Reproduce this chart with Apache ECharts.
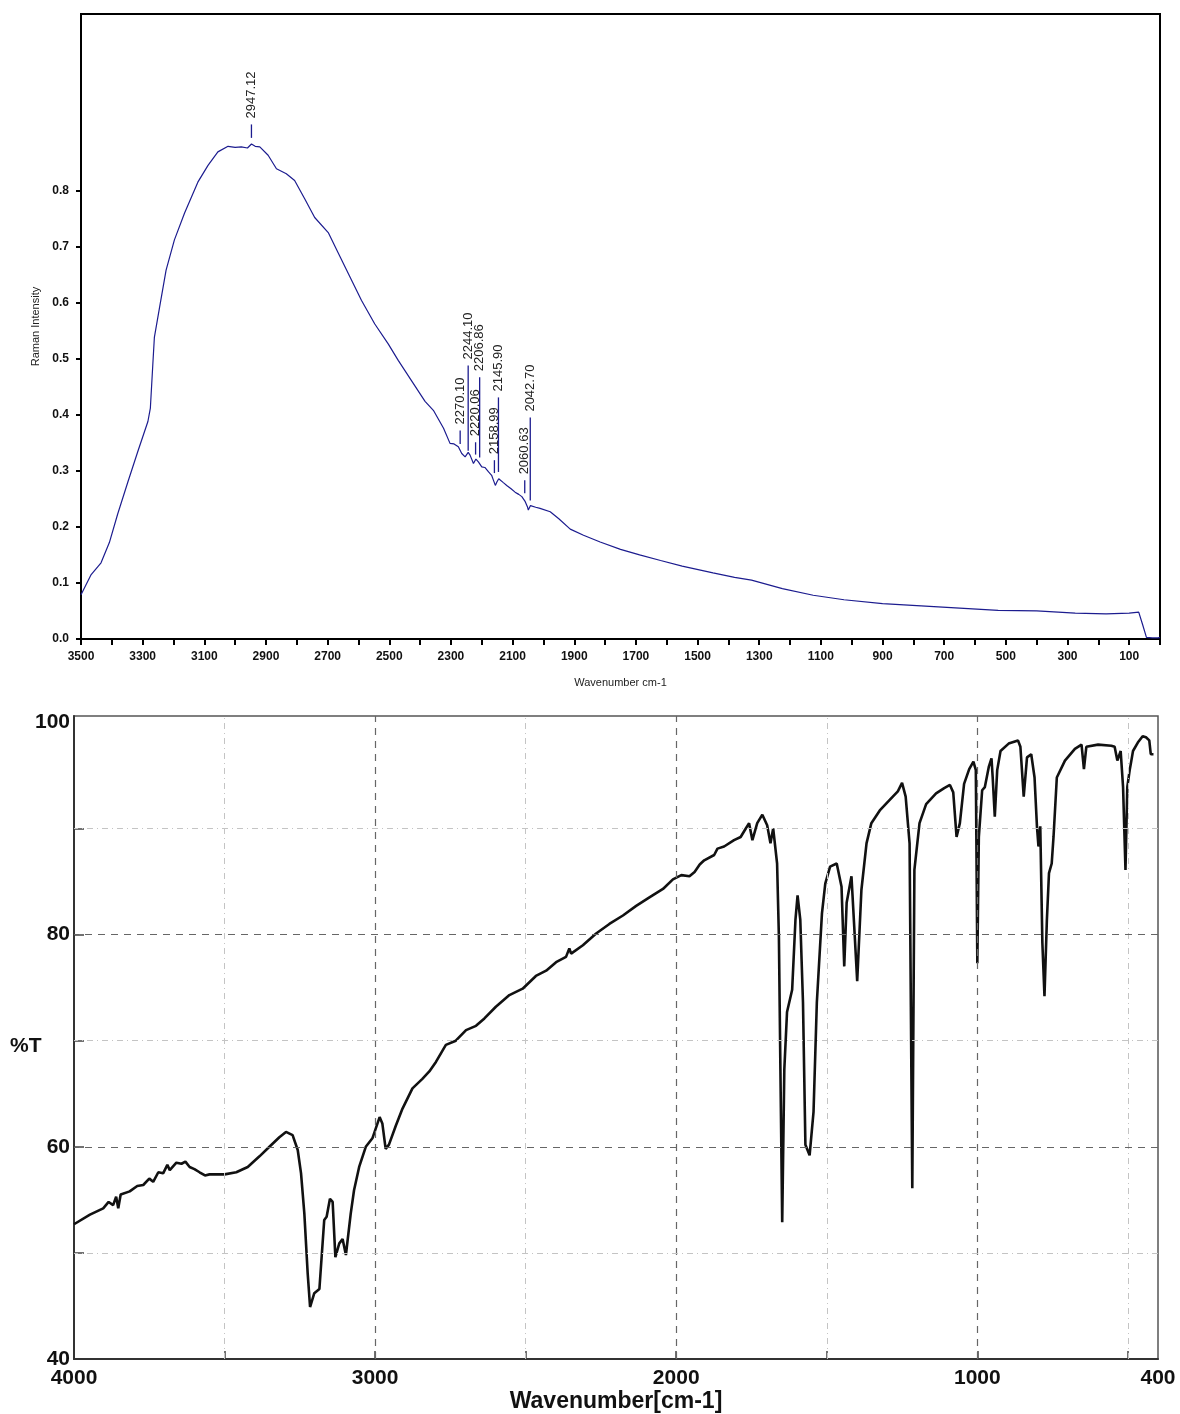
<!DOCTYPE html>
<html>
<head>
<meta charset="utf-8">
<title>Raman / IR spectra</title>
<script src="https://cdn.jsdelivr.net/npm/echarts@6/dist/echarts.min.js"></script>
<style>
  html, body { margin: 0; padding: 0; background: #fff; }
  #chart { width: 1180px; height: 1414px; }
</style>
</head>
<body>
<div id="chart"></div>
<script>
// Raman spectrum (top), [wavenumber, intensity]
var ramanWave = [3500, 3467, 3435, 3408, 3381, 3348, 3316, 3283, 3275, 3267, 3262, 3245, 3224, 3197, 3164, 3121, 3088, 3056, 3023, 3000,
  2980, 2960, 2947, 2935, 2920, 2893, 2866, 2834, 2807, 2774, 2742, 2698, 2666, 2633, 2590, 2547, 2503, 2471, 2427, 2384,
  2357, 2324, 2303, 2290, 2276, 2265, 2254, 2244, 2238, 2227, 2219, 2211, 2200, 2190, 2178, 2168, 2162, 2156, 2151, 2145,
  2140, 2130, 2119, 2105, 2092, 2080, 2070, 2059, 2052, 2049, 2042, 2038, 2025, 2011, 1978, 1951, 1913, 1870, 1816, 1750,
  1688, 1620, 1550, 1450, 1380, 1325, 1225, 1125, 1025, 900, 775, 650, 525, 400, 275, 175, 100, 69, 56, 44, 25, 6, 0];
var ramanValue = [0.079, 0.115, 0.136, 0.172, 0.223, 0.28, 0.334, 0.388, 0.412, 0.49, 0.538, 0.592, 0.658, 0.712, 0.76, 0.815, 0.845, 0.869, 0.879, 0.877,
  0.878, 0.876, 0.883, 0.879, 0.878, 0.863, 0.839, 0.83, 0.818, 0.785, 0.752, 0.725, 0.689, 0.652, 0.604, 0.562, 0.526, 0.497, 0.46, 0.424,
  0.408, 0.376, 0.349, 0.348, 0.343, 0.331, 0.325, 0.333, 0.328, 0.313, 0.321, 0.316, 0.307, 0.306, 0.298, 0.292, 0.283, 0.274, 0.28, 0.286,
  0.283, 0.279, 0.274, 0.268, 0.262, 0.258, 0.254, 0.245, 0.236, 0.23, 0.238, 0.236, 0.235, 0.233, 0.227, 0.215, 0.196, 0.185, 0.173, 0.16,
  0.15, 0.14, 0.13, 0.118, 0.11, 0.105, 0.09, 0.078, 0.07, 0.063, 0.059, 0.055, 0.051, 0.05, 0.046, 0.045, 0.046, 0.048, 0.025, 0.003, 0.002, 0.002, 0.003];

// labelled peaks: wavenumber, marker line from / to (intensity units)
var peakWave = [2947.12, 2270.10, 2244.10, 2220.06, 2206.86, 2158.99, 2145.90, 2060.63, 2042.70];
var peakLow  = [0.894, 0.348, 0.336, 0.329, 0.324, 0.296, 0.298, 0.26, 0.247];
var peakHigh = [0.918, 0.372, 0.488, 0.351, 0.467, 0.319, 0.431, 0.283, 0.395];

var ramanTicks = [0, 0.1, 0.2, 0.3, 0.4, 0.5, 0.6, 0.7, 0.8];

// IR spectrum (bottom), [wavenumber, %T]
var irWave = [4000, 3947, 3903, 3885, 3870, 3860, 3853, 3845, 3815, 3790, 3770, 3750, 3737, 3720, 3704, 3690, 3682, 3660, 3643, 3630,
  3616, 3600, 3583, 3565, 3550, 3500, 3461, 3423, 3384, 3351, 3318, 3296, 3274, 3257, 3246, 3235, 3224, 3216, 3202, 3185,
  3169, 3161, 3150, 3141, 3132, 3119, 3108, 3097, 3081, 3070, 3053, 3031, 3009, 2985, 2976, 2965, 2954, 2931, 2909, 2876,
  2843, 2820, 2798, 2765, 2732, 2698, 2665, 2637, 2599, 2554, 2510, 2466, 2432, 2399, 2366, 2355, 2349, 2310, 2266, 2222,
  2177, 2133, 2089, 2044, 2011, 1983, 1956, 1939, 1922, 1907, 1874, 1863, 1841, 1808, 1786, 1769, 1758, 1747, 1731, 1714,
  1698, 1687, 1678, 1665, 1659, 1654, 1648, 1641, 1632, 1615, 1604, 1597, 1588, 1579, 1571, 1557, 1544, 1533, 1516, 1505,
  1489, 1467, 1451, 1442, 1434, 1418, 1407, 1399, 1385, 1368, 1352, 1324, 1291, 1264, 1250, 1238, 1225, 1216, 1209, 1192,
  1170, 1137, 1110, 1091, 1080, 1069, 1058, 1044, 1027, 1013, 1005, 1000, 995, 984, 975, 962, 953, 949, 942, 934,
  923, 896, 865, 857, 846, 835, 821, 810, 802, 797, 791, 784, 777, 769, 762, 753, 747, 736, 709, 676,
  654, 646, 638, 599, 555, 544, 535, 524, 516, 508, 502, 494, 489, 483, 467, 451, 440, 429, 424, 415];
var irValue = [52.7, 53.6, 54.2, 54.8, 54.5, 55.3, 54.2, 55.5, 55.8, 56.3, 56.4, 57.0, 56.7, 57.6, 57.5, 58.3, 57.8, 58.5, 58.4, 58.6,
  58.1, 57.9, 57.6, 57.3, 57.4, 57.4, 57.6, 58.1, 59.1, 60.0, 60.9, 61.4, 61.1, 59.7, 57.5, 53.7, 48.1, 44.9, 46.2, 46.6,
  53.1, 53.4, 55.1, 54.8, 49.6, 50.9, 51.3, 49.8, 53.7, 55.9, 58.1, 60.0, 60.8, 62.8, 62.2, 59.8, 60.2, 62.0, 63.6, 65.5,
  66.4, 67.1, 68.0, 69.6, 70.0, 71.0, 71.4, 72.1, 73.2, 74.3, 74.9, 76.1, 76.6, 77.4, 77.9, 78.7, 78.2, 79.0, 80.1, 81.0,
  81.8, 82.7, 83.5, 84.3, 85.2, 85.6, 85.5, 85.9, 86.6, 87.0, 87.5, 88.1, 88.3, 88.9, 89.2, 90.0, 90.5, 88.9, 90.5, 91.3,
  90.3, 88.6, 90.0, 86.7, 79.8, 67.3, 52.9, 67.3, 72.7, 74.8, 81.4, 83.7, 81.4, 73.6, 60.2, 59.2, 63.3, 73.6, 82.0, 84.8,
  86.4, 86.7, 84.5, 77.0, 83.0, 85.5, 79.8, 75.6, 84.2, 88.6, 90.5, 91.7, 92.7, 93.5, 94.3, 93.0, 88.6, 56.1, 86.1, 90.5,
  92.3, 93.3, 93.8, 94.1, 93.4, 89.2, 90.5, 94.2, 95.6, 96.3, 95.5, 77.3, 89.2, 93.6, 93.9, 95.8, 96.6, 94.8, 91.1, 95.5,
  97.3, 98.0, 98.3, 97.7, 93.0, 96.7, 97.0, 94.8, 90.2, 88.3, 90.2, 79.2, 74.2, 81.4, 85.8, 86.7, 89.2, 94.8, 96.4, 97.5,
  97.9, 95.6, 97.7, 97.9, 97.8, 97.7, 96.4, 97.3, 93.9, 86.1, 93.9, 95.5, 96.3, 97.3, 98.1, 98.7, 98.6, 98.3, 97.0, 97.0];

var irLabelTicks = [4000, 3000, 2000, 1000, 400];
var irMinorTicks = [3500, 3000, 2500, 2000, 1500, 1000, 500];
var irMajorGridX = [3000, 2000, 1000];
var irMinorGridX = [3500, 2500, 1500, 500];
var irMajorGridY = [80, 60];
var irMinorGridY = [90, 70, 50];
var irYLabels = [40, 60, 80, 100];
var irYTicks = [50, 60, 70, 80, 90];

function zip(a, b) {
  return a.map(function (v, i) { return [v, b[i]]; });
}

var chart = echarts.init(document.getElementById('chart'));

var blue = '#1c1c8f';
var smallFont = '"Liberation Sans", Arial, sans-serif';

var majorDash = { color: '#666', width: 1.2, type: [7, 6] };
var minorDash = { color: '#c4c4c4', width: 1, type: [6, 4, 1, 4] };
var gridLines = [];
irMajorGridX.forEach(function (v) { gridLines.push({ xAxis: v, lineStyle: majorDash }); });
irMinorGridX.forEach(function (v) { gridLines.push({ xAxis: v, lineStyle: minorDash }); });
irMajorGridY.forEach(function (v) { gridLines.push({ yAxis: v, lineStyle: majorDash }); });
irMinorGridY.forEach(function (v) { gridLines.push({ yAxis: v, lineStyle: minorDash }); });

chart.setOption({
  animation: false,
  backgroundColor: '#fff',
  grid: [
    { left: 81, top: 14, width: 1079, height: 625, show: true, borderColor: '#000', borderWidth: 2 },
    { left: 74, top: 716, width: 1084, height: 643, show: true, borderColor: '#555', borderWidth: 1.5 }
  ],
  // y title of the IR panel
  graphic: [
    {
      type: 'text',
      left: 10,
      top: 1036,
      style: { text: '%T', fill: '#111', font: 'bold 21px ' + smallFont }
    }
  ],
  xAxis: [
    {
      gridIndex: 0,
      type: 'value',
      min: 0,
      max: 3500,
      interval: 100,
      inverse: true,
      name: 'Wavenumber cm-1',
      nameLocation: 'middle',
      nameGap: 38,
      nameTextStyle: { color: '#222', fontSize: 11, fontFamily: smallFont },
      axisLine: { show: true, onZero: false, lineStyle: { color: '#000', width: 2 } },
      axisTick: { show: true, length: 6, lineStyle: { color: '#000', width: 2 } },
      axisLabel: {
        margin: 12,
        color: '#111',
        fontSize: 12,
        fontWeight: 'bold',
        fontFamily: smallFont,
        formatter: function (v) { return (v % 200 === 100) ? String(v) : ''; }
      },
      splitLine: { show: false }
    },
    {
      gridIndex: 1,
      type: 'value',
      min: 400,
      max: 4000,
      inverse: true,
      name: 'Wavenumber[cm-1]',
      nameLocation: 'middle',
      nameGap: 29,
      nameTextStyle: { color: '#111', fontSize: 23, fontWeight: 'bold', fontFamily: smallFont },
      axisLine: { show: true, onZero: false, lineStyle: { color: '#333', width: 2 } },
      axisTick: { show: true, inside: true, length: 8, customValues: irMinorTicks, lineStyle: { color: '#444', width: 1.5 } },
      axisLabel: {
        margin: 9,
        color: '#111',
        fontSize: 21,
        fontWeight: 'bold',
        fontFamily: smallFont,
        customValues: irLabelTicks,
        formatter: function (v) { return String(v); }
      },
      splitLine: { show: false }
    }
  ],
  yAxis: [
    {
      gridIndex: 0,
      type: 'value',
      min: 0,
      max: 1.115,
      name: 'Raman Intensity',
      nameLocation: 'middle',
      nameGap: 40,
      nameRotate: 90,
      nameTextStyle: { color: '#222', fontSize: 11, fontFamily: smallFont },
      axisLine: { show: true, onZero: false, lineStyle: { color: '#000', width: 2 } },
      axisTick: { show: true, length: 5, customValues: ramanTicks, lineStyle: { color: '#000', width: 2 } },
      axisLabel: {
        margin: 12,
        color: '#111',
        fontSize: 12,
        fontWeight: 'bold',
        fontFamily: smallFont,
        customValues: ramanTicks,
        formatter: function (v) { return v.toFixed(1); }
      },
      splitLine: { show: false }
    },
    {
      gridIndex: 1,
      type: 'value',
      min: 40,
      max: 100.6,
      axisLine: { show: true, onZero: false, lineStyle: { color: '#333', width: 2 } },
      axisTick: { show: true, inside: true, length: 10, customValues: irYTicks, lineStyle: { color: '#444', width: 1.5 } },
      axisLabel: {
        margin: 4,
        color: '#111',
        fontSize: 21,
        fontWeight: 'bold',
        fontFamily: smallFont,
        customValues: irYLabels,
        formatter: function (v) { return String(v); }
      },
      splitLine: { show: false }
    }
  ],
  series: [
    {
      name: 'Raman',
      type: 'line',
      xAxisIndex: 0,
      yAxisIndex: 0,
      data: zip(ramanWave, ramanValue),
      symbol: 'none',
      lineStyle: { color: blue, width: 1.2 },
      z: 3
    },
    {
      name: 'peaks',
      type: 'custom',
      xAxisIndex: 0,
      yAxisIndex: 0,
      encode: { x: 0, y: [1, 2] },
      data: peakWave.map(function (w, i) { return [w, peakLow[i], peakHigh[i]]; }),
      renderItem: function (params, api) {
        var w = api.value(0);
        var p0 = api.coord([w, api.value(1)]);
        var p1 = api.coord([w, api.value(2)]);
        return {
          type: 'group',
          children: [
            {
              type: 'line',
              shape: { x1: p0[0], y1: p0[1], x2: p1[0], y2: p1[1] },
              style: { stroke: blue, lineWidth: 1.3 }
            },
            {
              type: 'text',
              x: p1[0],
              y: p1[1] - 6,
              rotation: Math.PI / 2,
              style: {
                text: w.toFixed(2),
                align: 'left',
                verticalAlign: 'middle',
                fill: '#222',
                font: '13px ' + smallFont
              }
            }
          ]
        };
      },
      z: 4
    },
    {
      name: 'grid lines',
      type: 'line',
      xAxisIndex: 1,
      yAxisIndex: 1,
      data: [],
      symbol: 'none',
      silent: true,
      z: 1,
      markLine: {
        silent: true,
        symbol: 'none',
        label: { show: false },
        animation: false,
        data: gridLines
      }
    },
    {
      name: 'IR',
      type: 'line',
      xAxisIndex: 1,
      yAxisIndex: 1,
      data: zip(irWave, irValue),
      symbol: 'none',
      lineStyle: { color: '#111', width: 2.6 },
      z: 3
    }
  ]
});
</script>
</body>
</html>
